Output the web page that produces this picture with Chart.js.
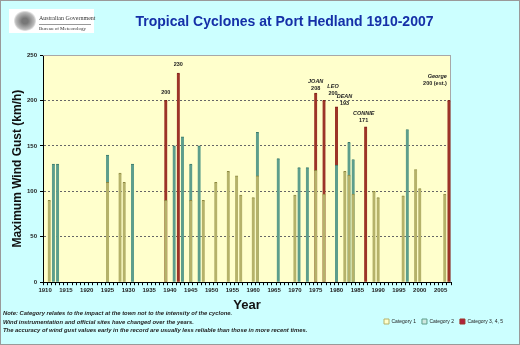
<!DOCTYPE html>
<html>
<head>
<meta charset="UTF-8">
<title>portHedland.html</title>
<style>
	body {margin:0;}
	#box {position:relative; width:520px; height:345px; background:#ccffff; border:1px solid #9a9a9a; box-sizing:border-box; font-family:'Liberation Sans', Arial, sans-serif; overflow:hidden;}
	#myChart {position:absolute; left:-1px; top:-1px;}
	#logo {position:absolute; left:8px; top:8px; width:85px; height:24px; background:#fff;}
	#crest {position:absolute; left:5px; top:2px; width:22px; height:20px; border-radius:40% 40% 45% 45%; background:radial-gradient(#777 20%, #bbb 60%, #fff 75%);}
	#logo .t1 {position:absolute; left:30px; top:6px; font:6px 'Liberation Serif', serif; color:#333; white-space:nowrap;}
	#logo .t2 {position:absolute; left:30px; top:15px; font:5px 'Liberation Serif', serif; color:#333; white-space:nowrap; border-top:1px solid #999; padding-top:1px; width:52px;}
	#title {position:absolute; left:0; width:567px; top:12px; text-align:center; font:bold 14px 'Liberation Sans', Arial, sans-serif; color:#1530a8;}
	#note {position:absolute; left:2px; top:308px; font:italic bold 5.85px 'Liberation Sans', Arial, sans-serif; line-height:8.5px; color:#222; white-space:nowrap;}
</style>
</head>
<body>
<div id="box">
	<canvas id="myChart" width="520" height="345"></canvas>
	<div id="logo">
		<div id="crest"></div>
		<div class="t1">Australian Government</div>
		<div class="t2">Bureau of Meteorology</div>
	</div>
	<div id="title">Tropical Cyclones at Port Hedland 1910-2007</div>
	<div id="note">
		Note: Category relates to the impact at the town not to the intensity of the cyclone.<br>
		Wind instrumentation and official sites have changed over the years.<br>
		The accuracy of wind gust values early in the record are usually less reliable than those in more recent times.
	</div>
</div>
<script src="https://cdn.jsdelivr.net/npm/chart.js"></script>
<script>
	// 연도 (x축 카테고리)
	const years = [];
	for (let y = 1910; y <= 2007; y++) years.push(y);

	// Category 1
	const cat1Years = [1911, 1925, 1928, 1929, 1939, 1945, 1948, 1951, 1954, 1956, 1957, 1960, 1961,
		1970, 1975, 1977, 1982, 1983, 1984, 1989, 1990, 1996, 1999, 2000, 2006];
	const cat1Gust = [90, 110, 120, 110, 90, 90, 90, 110, 122, 117, 96, 93, 117,
		96, 123, 97, 122, 118, 97, 100, 93, 95, 124, 103, 97];

	// Category 2
	const cat2Years = [1912, 1913, 1925, 1931, 1941, 1943, 1945, 1947, 1961, 1966, 1971, 1973, 1980, 1983, 1984, 1997];
	const cat2Gust = [130, 130, 140, 130, 150, 160, 130, 150, 165, 136, 126, 126, 129, 154, 135, 168];

	// Category 3, 4, 5
	const cat3Years = [1939, 1942, 1975, 1977, 1980, 1987, 2007];
	const cat3Gust = [200, 230, 208, 200, 193, 171, 200];
	const cat3Names = ['', '', 'JOAN', 'LEO', 'DEAN', 'CONNIE', 'George'];
	const cat3Tags = ['200', '230', '208', '200', '193', '171', '200 (est.)'];

	// 라벨 위치 보정 (px)
	const tagShift = [[0, 8], [0, 8.5], [0, 5], [9, 6.5], [8, 3.5], [-2, 6.5], [-2, 16.5]];
	const tagAlign = ['center', 'center', 'center', 'center', 'center', 'center', 'right'];

	function spread(ys, vals) {
		return years.map(y => {
			let i = ys.indexOf(y);
			return i < 0 ? null : vals[i];
		});
	}

	// 플롯 배경
	const plotBg = {
		id:'plotBg',
		beforeDraw(chart) {
			let a = chart.chartArea, c = chart.ctx;
			c.save();
			c.fillStyle = '#ffffcc';
			c.fillRect(a.left, a.top, a.right - a.left, a.bottom - a.top);
			c.restore();
		},
		beforeDatasetsDraw(chart) {
			let a = chart.chartArea, c = chart.ctx;
			c.save();
			c.strokeStyle = '#a8a8a8';
			c.lineWidth = 1;
			c.beginPath();
			c.moveTo(a.left, a.top + 0.5);
			c.lineTo(a.right - 0.5, a.top + 0.5);
			c.lineTo(a.right - 0.5, a.bottom);
			c.stroke();
			c.restore();
		}
	};

	// 빨간 막대 위 라벨
	const stormTags = {
		id:'stormTags',
		afterDatasetsDraw(chart) {
			let c = chart.ctx, xs = chart.scales.x, ys = chart.scales.y;
			c.save();
			c.fillStyle = '#222';
			c.textBaseline = 'middle';
			cat3Years.forEach((yr, i) => {
				let x = xs.getPixelForValue(years.indexOf(yr)) + tagShift[i][0];
				let y = ys.getPixelForValue(cat3Gust[i]) - tagShift[i][1];
				c.textAlign = tagAlign[i];
				c.font = 'bold 5.5px "Liberation Sans", Arial, sans-serif';
				c.fillText(cat3Tags[i], x, y);
				if (cat3Names[i]) {
					c.font = 'italic bold 5.5px "Liberation Sans", Arial, sans-serif';
					c.fillText(cat3Names[i], x, y - 7);
				}
			});
			c.restore();
		}
	};

	const fills = ['#b5b26a', '#5d9e8c', '#9c3428'];
	const edges = ['#8c8840', '#3c7a6a', '#7a2018'];
	const legendFill = ['#ffffcc', '#cfe8df', '#b0203a'];

	const ctx = document.getElementById('myChart');
	const chart = new Chart(ctx, {
		type:'bar',
		data:{
			labels:years,
			datasets:[
				{label:'Category 1', data:spread(cat1Years, cat1Gust)},
				{label:'Category 2', data:spread(cat2Years, cat2Gust)},
				{label:'Category 3, 4, 5', data:spread(cat3Years, cat3Gust)}
			].map((d, i) => Object.assign(d, {
				backgroundColor:fills[i],
				borderColor:edges[i],
				borderWidth:{top:1, left:0, right:0, bottom:0},
				borderSkipped:'bottom',
				grouped:false,
				barThickness:3
			}))
		},
		options:{
			responsive:false,
			animation:false,
			layout:{padding:{left:0, right:11, top:55, bottom:11}},
			font:{family:"'Liberation Sans', Arial, sans-serif"},
			plugins:{
				tooltip:{enabled:false},
				legend:{
					position:'bottom',
					align:'end',
					labels:{
						boxWidth:5, boxHeight:5, padding:6,
						font:{size:5}, color:'#222',
						generateLabels:ch => ch.data.datasets.map((d, i) => ({
							text:d.label, fillStyle:legendFill[i], strokeStyle:fills[i],
							lineWidth:1, datasetIndex:i, fontColor:'#222'
						}))
					}
				}
			},
			scales:{
				x:{
					grid:{drawOnChartArea:false, tickLength:3, tickColor:'#000', offset:true},
					border:{color:'#000'},
					ticks:{
						autoSkip:false, maxRotation:0, minRotation:0, padding:2,
						font:{size:6, weight:'bold'}, color:'#222',
						callback:(v, i) => years[i] % 5 === 0 ? years[i] : ''
					},
					title:{display:true, text:'Year', color:'#111', font:{size:13, weight:'bold'}, padding:{top:1, bottom:0}}
				},
				y:{
					min:0, max:250,
					ticks:{stepSize:50, padding:3, font:{size:6, weight:'bold'}, color:'#222'},
					grid:{
						tickLength:3, tickColor:'#000',
						color:c => c.tick && c.tick.value === 0 ? 'rgba(0,0,0,0)' : (c.tick && c.tick.value === 250 ? '#a8a8a8' : '#666')
					},
					border:{color:'#000', dash:c => c.tick && c.tick.value === 250 ? [] : [2, 2]},
					title:{display:true, text:'Maximum Wind Gust (km/h)', color:'#111', font:{size:12, weight:'bold'}, padding:{top:10, bottom:0}},
					afterFit:s => { s.width = 43; }
				},
				yR:{
					position:'right', min:0, max:250,
					ticks:{display:false}, grid:{display:false}, border:{display:false},
					afterFit:s => { s.width = 58; }
				}
			}
		},
		plugins:[plotBg, stormTags]
	});
</script>
</body>
</html>
